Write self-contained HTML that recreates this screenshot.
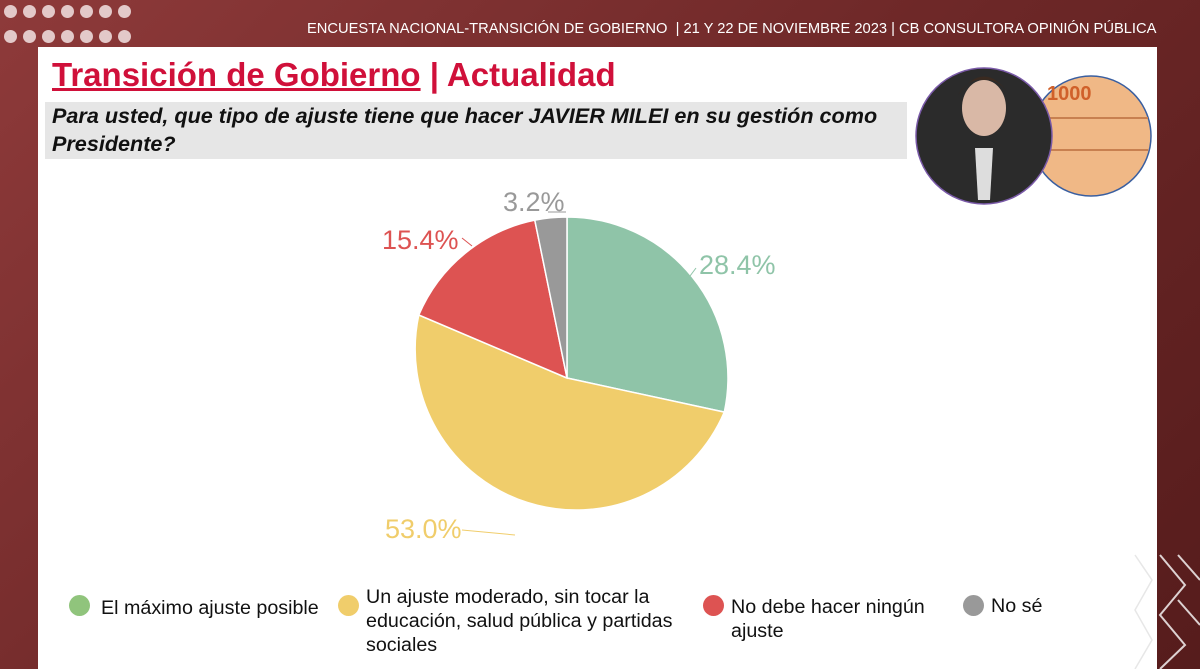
<!DOCTYPE html>
<html><head><meta charset="utf-8"><style>
body{margin:0;width:1200px;height:669px;overflow:hidden;font-family:"Liberation Sans",sans-serif;background:linear-gradient(135deg,#8e3a3a 0%,#6e2828 50%,#561c1c 100%);position:relative}
.dot{position:absolute;width:13px;height:13px;border-radius:50%;background:#e3c9c9}
.panel{position:absolute;left:38px;top:47px;width:1119px;height:622px;background:#fff}
.hdr{position:absolute;left:307px;top:21px;color:#fff;font-size:14.7px;white-space:nowrap}
.title{position:absolute;left:52px;top:56px;font-size:33px;font-weight:bold;color:#d0103a;white-space:nowrap}
.q{position:absolute;left:45px;top:102px;width:862px;height:57px;background:#e6e6e6}
.qt{position:absolute;left:52px;top:102px;font-size:21.6px;font-weight:bold;font-style:italic;line-height:28px;color:#111;width:860px}
.leg{position:absolute;font-size:19.7px;color:#111;line-height:24px}
.lc{position:absolute;width:21px;height:21px;border-radius:50%}
</style></head><body>
<div class="panel"></div>
<div id="dots"></div>
<script>
var d=document.getElementById('dots');for(var r=0;r<2;r++)for(var c=0;c<7;c++){var e=document.createElement('div');e.className='dot';e.style.left=(4+c*19)+'px';e.style.top=(5+r*25)+'px';d.appendChild(e);}
</script>
<div class="hdr">ENCUESTA NACIONAL-TRANSICIÓN DE GOBIERNO &nbsp;| 21 Y 22 DE NOVIEMBRE 2023 | CB CONSULTORA OPINIÓN PÚBLICA</div>
<div class="q"></div>
<div class="title"><span style="text-decoration:underline">Transición de Gobierno</span> | Actualidad</div>
<div class="qt">Para usted, que tipo de ajuste tiene que hacer JAVIER MILEI en su gestión como Presidente?</div>
<svg width="1200" height="669" style="position:absolute;left:0;top:0">
<circle cx="1091" cy="136" r="60" fill="#f0b886" stroke="#3a5fa0" stroke-width="1.5"/>
<text x="1047" y="100" font-family="Liberation Sans" font-weight="bold" font-size="20" fill="#d0602a">1000</text>
<line x1="1040" y1="118" x2="1148" y2="118" stroke="#c88050" stroke-width="2"/>
<line x1="1040" y1="150" x2="1148" y2="150" stroke="#c88050" stroke-width="2"/>
<circle cx="984" cy="136" r="68" fill="#2b2b2b" stroke="#7a5aa8" stroke-width="1.5"/>
<ellipse cx="984" cy="108" rx="22" ry="28" fill="#d9b8a6"/>
<path d="M958 95 Q984 58 1010 95 Q998 78 984 80 Q968 78 958 95Z" fill="#3a2a20"/>
<path d="M975 148 L993 148 L990 200 L978 200Z" fill="#ddd"/>
<g stroke="#fff" stroke-width="1.5">
<path d="M567 378 L567 217 A161 161 0 0 1 724.3 412.1Z" fill="#8fc4a8"/>
<path d="M567 378 L724.3 412.1 A161 161 0 0 1 418.8 315Z" fill="#f0cd6b"/>
<path d="M567 378 L418.8 315 A161 161 0 0 1 534.8 220.2Z" fill="#dd5352"/>
<path d="M567 378 L534.8 220.2 A161 161 0 0 1 567 217Z" fill="#999"/>
</g>
<g fill="none" stroke-width="1">
<line x1="696" y1="268" x2="690" y2="276" stroke="#8fc4a8"/>
<line x1="462" y1="530" x2="515" y2="535" stroke="#f0cd6b"/>
<line x1="462" y1="238" x2="472" y2="246" stroke="#dd5352"/>
<line x1="548" y1="212" x2="566" y2="212" stroke="#999"/>
</g>
<g font-family="Liberation Sans" font-size="27">
<text x="699" y="274" fill="#8fc4a8">28.4%</text>
<text x="385" y="538" fill="#f0cd6b">53.0%</text>
<text x="382" y="249" fill="#dd5352">15.4%</text>
<text x="503" y="211" fill="#999">3.2%</text>
</g>
<g fill="none" stroke="#fff" stroke-width="2" opacity="0.8">
<path d="M1160 555 L1185 585 L1160 615 L1185 645 L1160 669"/>
<path d="M1178 555 L1200 580"/><path d="M1178 600 L1200 625"/>
</g>
<g fill="none" stroke="#ddd" stroke-width="1.5" opacity="0.7">
<path d="M1135 555 L1152 580 L1135 610 L1152 640 L1135 669"/>
</g>
</svg>
<div class="lc" style="left:69px;top:595px;background:#90c47c"></div>
<div class="leg" style="left:101px;top:596px">El máximo ajuste posible</div>
<div class="lc" style="left:338px;top:595px;background:#f0cd6b"></div>
<div class="leg" style="left:366px;top:585px;width:330px">Un ajuste moderado, sin tocar la educación, salud pública y partidas sociales</div>
<div class="lc" style="left:703px;top:595px;background:#dd5352"></div>
<div class="leg" style="left:731px;top:595px;width:220px">No debe hacer ningún ajuste</div>
<div class="lc" style="left:963px;top:595px;background:#999"></div>
<div class="leg" style="left:991px;top:594px">No sé</div>
</body></html>
